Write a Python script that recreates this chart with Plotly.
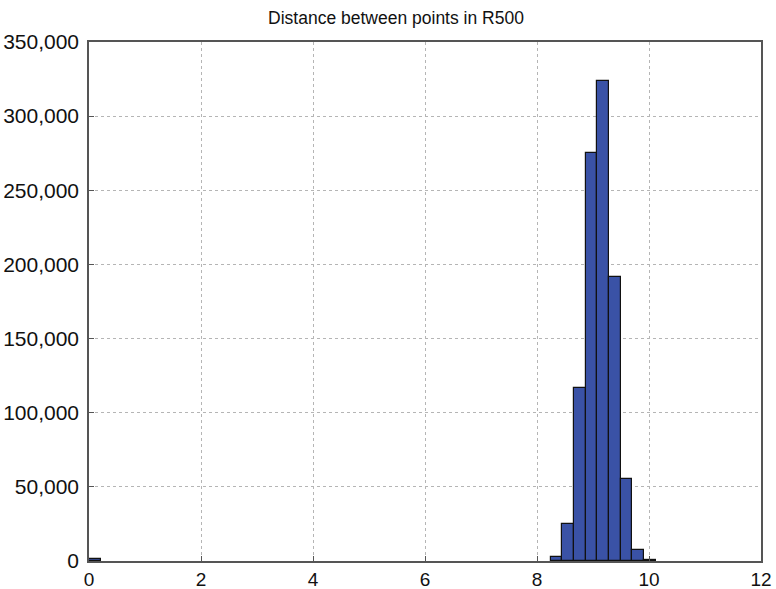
import plotly.graph_objects as go

bin_centers = [0.104, 8.349, 8.557, 8.765, 8.973, 9.181, 9.389, 9.597, 9.805, 10.013]
counts = [1200, 2600, 25200, 116700, 275300, 323500, 191600, 55100, 7700, 600]
bin_width = 0.208
x_ticks = [0, 2, 4, 6, 8, 10, 12]
y_ticks = [0, 50000, 100000, 150000, 200000, 250000, 300000, 350000]

fig = go.Figure()
fig.add_trace(go.Bar(
    x=bin_centers, y=counts, width=[bin_width] * len(bin_centers),
    marker=dict(color="#3a52a6", line=dict(color="#111111", width=1.2)),
    showlegend=False,
))

axis_common = dict(
    showline=True, linecolor="#555555", linewidth=1.5, mirror=True,
    showgrid=True, gridcolor="#b5b5b5", griddash="dot", gridwidth=1,
    ticks="inside", ticklen=5, tickcolor="#555555",
    zeroline=False, automargin=False,
)

fig.update_layout(
    width=776, height=589,
    margin=dict(l=89, r=15, t=42, b=28, autoexpand=False),
    paper_bgcolor="white", plot_bgcolor="white",
    title=dict(text="Distance between points in R500", x=396 / 776, xanchor="center",
               y=1 - 18 / 589, yanchor="middle",
               font=dict(family="Liberation Sans, Arial, sans-serif", size=17.5, color="#111111")),
    bargap=0,
    xaxis=dict(range=[0, 12], tickvals=x_ticks, ticklabelstandoff=0,
               tickfont=dict(family="Liberation Sans, Arial, sans-serif", size=19, color="#111111"),
               **axis_common),
    yaxis=dict(range=[0, 350000], tickvals=y_ticks, tickformat=",", ticklabelstandoff=4,
               tickfont=dict(family="Liberation Sans, Arial, sans-serif", size=21, color="#111111"),
               **axis_common),
)

fig.write_html("out.html")
